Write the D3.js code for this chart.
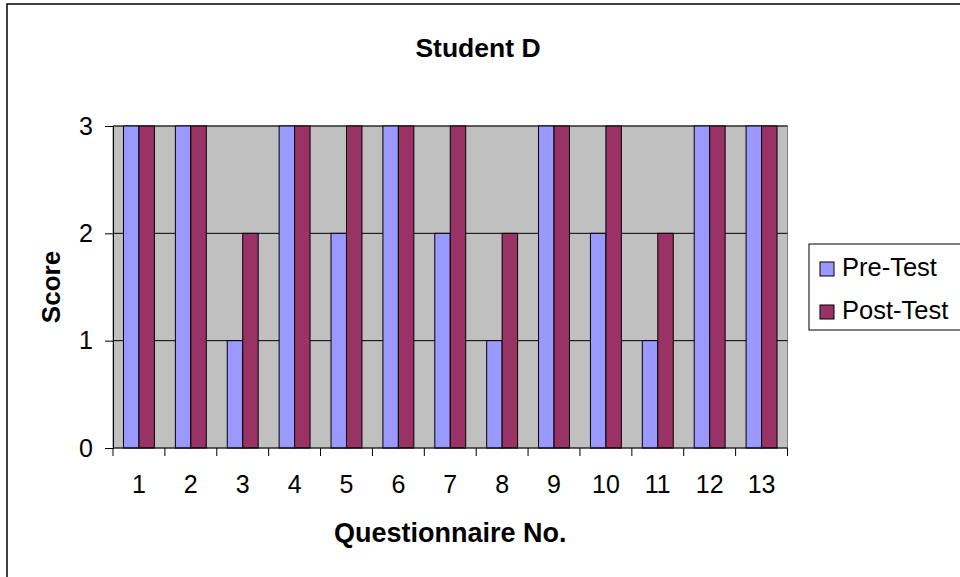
<!DOCTYPE html>
<html>
<head>
<meta charset="utf-8">
<script src="https://cdn.jsdelivr.net/npm/d3@7"></script>
<style>
  html, body { margin: 0; padding: 0; background: #fff; }
  svg { display: block; font-family: "Liberation Sans", Arial, sans-serif; }
</style>
</head>
<body>
<svg id="chart" width="960" height="577"></svg>
<script>
// Scores per questionnaire item
const questions = ["1","2","3","4","5","6","7","8","9","10","11","12","13"];
const preTest  = [3, 3, 1, 3, 2, 3, 2, 1, 3, 2, 1, 3, 3];
const postTest = [3, 3, 2, 3, 3, 3, 3, 2, 3, 3, 2, 3, 3];
const seriesNames = ["Pre-Test", "Post-Test"];
const seriesColors = ["#9999FF", "#993366"];
const yTicks = [0, 1, 2, 3];

const svg = d3.select("#chart");

// outer chart frame
svg.append("rect")
  .attr("x", 7).attr("y", 4).attr("width", 970).attr("height", 590)
  .attr("fill", "#fff").attr("stroke", "#000").attr("stroke-width", 1.5);

const plot = { left: 113, top: 126, right: 787.5, bottom: 448 };

const x = d3.scaleBand().domain(questions).range([plot.left, plot.right]);
const y = d3.scaleLinear().domain([0, 3]).range([plot.bottom, plot.top]);

// plot background
svg.append("rect")
  .attr("x", plot.left).attr("y", plot.top)
  .attr("width", plot.right - plot.left).attr("height", plot.bottom - plot.top)
  .attr("fill", "#C0C0C0").attr("stroke", "#808080").attr("stroke-width", 1);

// horizontal gridlines
svg.append("g").selectAll("line").data(yTicks.filter(d => d > 0)).join("line")
  .attr("x1", plot.left).attr("x2", plot.right)
  .attr("y1", d => y(d)).attr("y2", d => y(d))
  .attr("stroke", "#000").attr("stroke-width", 1);

// bars
const bw = x.bandwidth();
const barW = bw * 0.298;
const inner = d3.scaleBand().domain(seriesNames).range([0, 2 * barW]);
const offset = (bw - 2 * barW) / 2;

const rows = questions.map((q, i) => ({ q, vals: [preTest[i], postTest[i]] }));
const groups = svg.append("g").selectAll("g").data(rows).join("g")
  .attr("transform", d => `translate(${x(d.q) + offset},0)`);
groups.selectAll("rect").data(d => d.vals.map((v, k) => ({ v, k }))).join("rect")
  .attr("x", d => inner(seriesNames[d.k]))
  .attr("width", inner.bandwidth())
  .attr("y", d => y(d.v))
  .attr("height", d => y(0) - y(d.v))
  .attr("fill", d => seriesColors[d.k])
  .attr("stroke", "#000").attr("stroke-width", 1);

// y axis
const yAxis = d3.axisLeft(y).tickValues(yTicks).tickFormat(d3.format("d")).tickSizeOuter(0).tickSize(8).tickPadding(12);
const gy = svg.append("g").attr("transform", `translate(${plot.left},0)`).call(yAxis);
gy.select(".domain").attr("stroke", "#000");
gy.selectAll(".tick line").attr("stroke", "#000");
gy.selectAll("text").attr("font-size", 25).attr("fill", "#000")
  .attr("font-family", "Liberation Sans, Arial, sans-serif");

// x axis: ticks at category boundaries
const gx = svg.append("g").attr("transform", `translate(0,${plot.bottom})`);
gx.append("line").attr("x1", plot.left).attr("x2", plot.right)
  .attr("stroke", "#000");
const bounds = questions.map(q => x(q)).concat([x(questions[questions.length - 1]) + bw]);
gx.selectAll("line.tk").data(bounds).join("line").attr("class", "tk")
  .attr("x1", d => d).attr("x2", d => d).attr("y1", 0).attr("y2", 8)
  .attr("stroke", "#000");
gx.selectAll("text").data(questions).join("text")
  .attr("x", d => x(d) + bw / 2).attr("y", 45)
  .attr("text-anchor", "middle").attr("font-size", 25).attr("fill", "#000")
  .text(d => d);

// titles
svg.append("text").attr("x", 478).attr("y", 57).attr("text-anchor", "middle")
  .attr("font-size", 26.5).attr("font-weight", "bold").text("Student D");
svg.append("text").attr("x", (plot.left + plot.right) / 2).attr("y", 542).attr("text-anchor", "middle")
  .attr("font-size", 27).attr("font-weight", "bold").text("Questionnaire No.");
svg.append("text").attr("transform", `translate(60,${(plot.top + plot.bottom) / 2}) rotate(-90)`)
  .attr("text-anchor", "middle").attr("font-size", 26).attr("font-weight", "bold").text("Score");

// legend
const lg = svg.append("g");
lg.append("rect").attr("x", 809).attr("y", 244).attr("width", 170).attr("height", 86)
  .attr("fill", "#fff").attr("stroke", "#000").attr("stroke-width", 1);
const items = lg.selectAll("g").data(seriesNames).join("g")
  .attr("transform", (d, i) => `translate(820,${262 + i * 43})`);
items.append("rect").attr("width", 14).attr("height", 14)
  .attr("fill", (d, i) => seriesColors[i]).attr("stroke", "#000").attr("stroke-width", 1);
items.append("text").attr("x", 22).attr("y", 14).attr("font-size", 25.5).attr("fill", "#000")
  .text(d => d);
</script>
</body>
</html>
